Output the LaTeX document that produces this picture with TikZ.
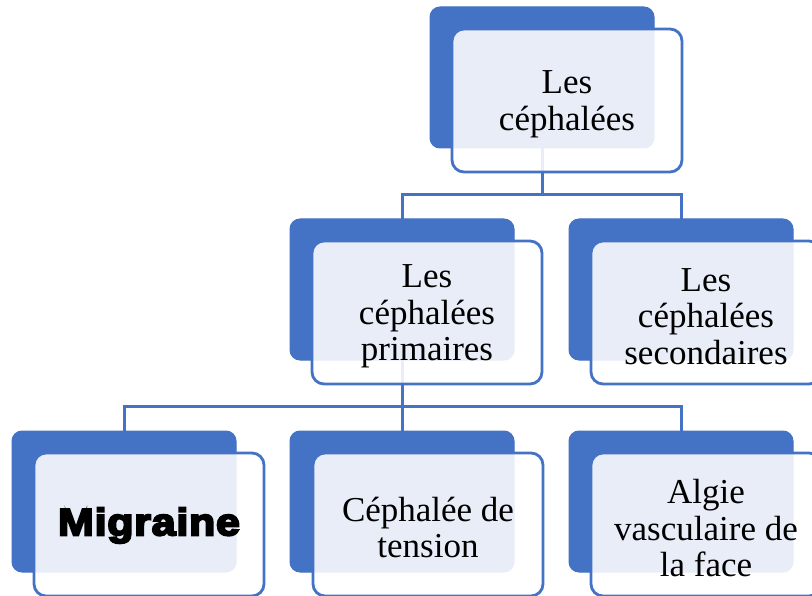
\documentclass[tikz,border=0pt]{standalone}
\usepackage{fontspec}
\setmainfont{Liberation Serif}
\newfontfamily\migfont[FakeStretch=1.13,FakeBold=5.5,LetterSpace=2]{Liberation Sans Bold}
\definecolor{bl}{HTML}{4472C4}
\tikzset{
  backbox/.style={rectangle, rounded corners=10pt, fill=bl, draw=bl, line width=1pt,
    minimum width=224pt, minimum height=141pt, inner sep=0pt, outer sep=0pt},
  frontbox/.style={rectangle, rounded corners=12pt, fill=white, fill opacity=0.88,
    draw=bl, draw opacity=1, line width=2.8pt, minimum width=230pt, minimum height=143pt,
    inner sep=0pt, outer sep=0pt},
  boxtext/.style={inner sep=0pt, align=center, text=black,
    font=\fontsize{35}{36.5}\selectfont},
  conn/.style={draw=bl, line width=3pt}
}
\begin{document}
\begin{tikzpicture}[x=1pt,y=-1pt]
\useasboundingbox (0,0) rectangle (812,596);
% back boxes
\node[backbox] (rootB) at (542,77.5) {};
\node[backbox] (primB) at (402,289.5) {};
\node[backbox] (secB) at (681,289.5) {};
\node[backbox] (migB) at (124,501.5) {};
\node[backbox] (tenB) at (402,501.5) {};
\node[backbox] (algB) at (681,501.5) {};
% connectors (under the front boxes)
\coordinate (j1) at (542,195);
\coordinate (j2) at (402,406);
\draw[conn] (rootB.south) -- (j1) -| (primB.north);
\draw[conn] (j1) -| (secB.north);
\draw[conn] (primB.south) -- (j2);
\draw[conn] (j2) -| (migB.north);
\draw[conn] (j2) -- (tenB.north);
\draw[conn] (j2) -| (algB.north);
% front boxes
\node[frontbox] (rootF) at (567,100.5) {};
\node[frontbox] (primF) at (427,312.5) {};
\node[frontbox] (secF) at (706,312.5) {};
\node[frontbox] (migF) at (149,524.5) {};
\node[frontbox] (tenF) at (428,524.5) {};
\node[frontbox] (algF) at (706,524.5) {};
% texts
\node[boxtext] (rootT) at ([yshift=-4pt]rootF.center) {Les\\céphalées};
\node[boxtext] (primT) at ([yshift=-4pt]primF.center) {Les\\céphalées\\primaires};
\node[boxtext] (secT) at ([yshift=-4pt]secF.center) {Les\\céphalées\\secondaires};
\node[boxtext] (migT) at ([yshift=-1pt]migF.center) {\migfont\fontsize{38}{40}\selectfont Migraine};
\node[boxtext] (tenT) at ([yshift=-3pt]tenF.center) {Céphalée de\\tension};
\node[boxtext] (algT) at ([yshift=-4pt]algF.center) {Algie\\vasculaire de\\la face};
\end{tikzpicture}
\end{document}
